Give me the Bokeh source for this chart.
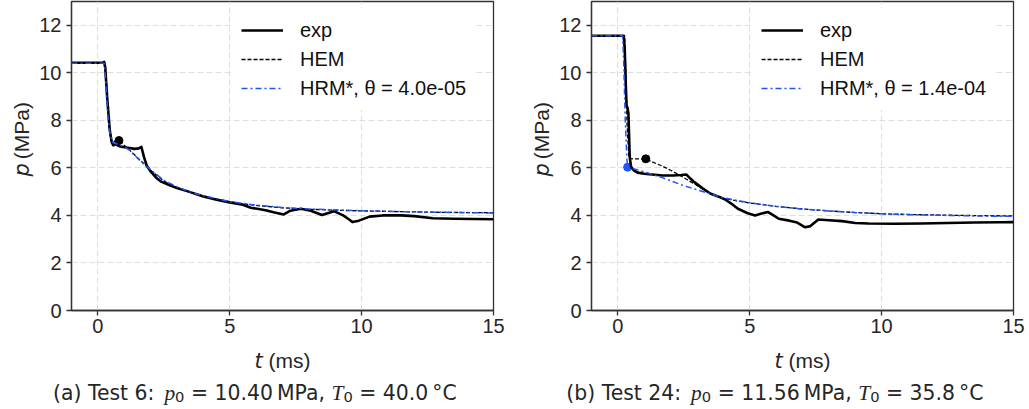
import math
from bokeh.plotting import figure
from bokeh.models import Range1d, Legend, LegendItem, FixedTicker
from bokeh.core.properties import value
from bokeh.layouts import row, column
from bokeh.embed import file_html
from bokeh.resources import INLINE

# ---------------- data ----------------
# Test 6
exp6_t = [-1, 0.18, 0.24, 0.28, 0.35, 0.45, 0.52, 0.58, 0.65, 0.75, 0.85, 1.0, 1.2, 1.4, 1.55,
          1.65, 1.75, 1.85, 2.0, 2.2, 2.4, 2.7, 3.0, 3.5, 4.0, 4.5, 5.0, 5.5, 5.8, 6.1, 6.4,
          6.7, 7.05, 7.3, 7.7, 8.07, 8.5, 8.95, 9.3, 9.5, 9.65, 9.9, 10.3, 10.8, 11.5, 12.0,
          12.7, 13.5, 14.3, 15]
exp6_p = [10.42, 10.42, 10.46, 10.2, 9.0, 7.6, 7.1, 6.95, 7.0, 6.95, 6.9, 6.87, 6.84, 6.8, 6.82,
          6.88, 6.45, 6.1, 5.85, 5.6, 5.42, 5.28, 5.15, 4.98, 4.8, 4.66, 4.55, 4.45, 4.32, 4.27, 4.21,
          4.12, 4.04, 4.2, 4.28, 4.2, 4.02, 4.18, 4.0, 3.85, 3.72, 3.78, 3.95, 4.0, 4.0, 3.97,
          3.88, 3.86, 3.85, 3.84]
hem6_t = [-1, 0.28, 0.33, 0.4, 0.47, 0.55, 0.8, 0.9, 1.2, 1.6, 2.0, 2.5, 3.0, 3.5, 4.0, 5.0,
          6.0, 7.0, 8.0, 9.0, 10.0, 11.0, 12.0, 13.0, 14.0, 15.0]
hem6_p = [10.40, 10.40, 9.5, 8.0, 7.3, 7.1, 7.15, 7.05, 6.75, 6.33, 5.9, 5.45, 5.18, 4.98, 4.82, 4.57,
          4.42, 4.32, 4.26, 4.22, 4.19, 4.17, 4.15, 4.13, 4.12, 4.11]
hrm6_t = [-1, 0.25, 0.3, 0.38, 0.45, 0.55, 0.9, 1.17, 1.57, 2.0, 2.5, 3.0, 3.5, 4.0, 5.0, 6.0,
          7.0, 8.0, 9.0, 10.0, 11.0, 12.0, 13.0, 14.0, 15.0]
hrm6_p = [10.40, 10.40, 9.6, 8.2, 7.5, 7.08, 6.93, 6.77, 6.33, 5.92, 5.48, 5.2, 4.99, 4.83, 4.58, 4.43,
          4.33, 4.27, 4.23, 4.2, 4.17, 4.15, 4.13, 4.12, 4.10]
hem6_mark = ([0.8], [7.15])
hrm6_mark = ([], [])

# Test 24
exp24_t = [-1, 0.22, 0.26, 0.3, 0.33, 0.36, 0.4, 0.45, 0.5, 0.6, 0.75, 1.0, 1.3, 1.7, 2.1, 2.4,
           2.6, 2.75, 2.9, 3.2, 3.5, 3.8, 4.05, 4.3, 4.55, 4.9, 5.2, 5.45, 5.7, 5.9, 6.1, 6.5,
           6.8, 7.1, 7.3, 7.6, 8.0, 8.5, 9.0, 9.5, 10.5, 11.5, 12.5, 13.5, 14.5, 15]
exp24_p = [11.56, 11.56, 11.0, 9.5, 8.6, 8.55, 8.3, 6.45, 6.05, 5.9, 5.8, 5.75, 5.72, 5.68, 5.68, 5.7,
           5.72, 5.55, 5.4, 5.15, 4.92, 4.8, 4.68, 4.5, 4.28, 4.1, 4.0, 4.08, 4.14, 4.0, 3.86, 3.78,
           3.7, 3.5, 3.55, 3.83, 3.8, 3.76, 3.68, 3.66, 3.65, 3.66, 3.68, 3.7, 3.71, 3.72]
hem24_t = [-1, 0.26, 0.3, 0.35, 0.42, 0.6, 1.06, 1.3, 1.63, 2.0, 2.3, 2.6, 2.9, 3.2, 3.5, 4.0,
           5.0, 6.0, 7.0, 8.0, 9.0, 10.0, 11.0, 12.0, 13.0, 14.0, 15.0]
hem24_p = [11.56, 11.56, 10.0, 7.8, 6.4, 6.38, 6.38, 6.25, 6.1, 5.9, 5.72, 5.52, 5.33, 5.12, 4.92, 4.72,
           4.52, 4.38, 4.27, 4.19, 4.12, 4.07, 4.04, 4.02, 4.0, 3.99, 3.98]
hrm24_t = [-1, 0.18, 0.22, 0.28, 0.34, 0.37, 0.8, 1.63, 2.5, 3.5, 4.0, 5.0, 6.0, 7.0, 8.0, 9.0,
           10.0, 11.0, 12.0, 13.0, 14.0, 15.0]
hrm24_p = [11.56, 11.56, 10.5, 8.0, 6.4, 6.03, 5.9, 5.61, 5.25, 4.91, 4.74, 4.53, 4.38, 4.27, 4.19, 4.12,
           4.07, 4.03, 4.01, 3.99, 3.97, 3.96]
hem24_mark = ([1.06], [6.38])
hrm24_mark = ([0.37], [6.03])

x_ticks = [0, 5, 10, 15]
y_ticks = [0, 2, 4, 6, 8, 10, 12]
legend_labels = ["exp", "HEM"]
theta6 = "4.0e-05"
theta24 = "1.4e-04"
caption_a = ("(a) Test 6:", "10.40\u2009MPa,", "40.0\u2009°C")
caption_b = ("(b) Test 24:", "11.56\u2009MPa,", "35.8\u2009°C")

# ---------------- layout constants ----------------
X0, X1 = -1, 15
Y0, Y1 = 0, 13
FRAME_W, FRAME_H = 422, 309
TOP_H = 342          # height of the row holding the plots
YLAB_W = 34          # strip holding the rotated y label
BL = 71 - YLAB_W     # left border of the plot figures
BT = 1
CAP_H = 409 - TOP_H
BLUE = "#1f55ff"
TXT = "#262626"

W = {
    ("DejaVu Sans", "normal"): {" ": .318, "(": .390, ")": .390, "a": .613, "b": .635, "T": .611,
                                "e": .615, "s": .521, "t": .392, ":": .337, "=": .838, ".": .318,
                                "M": .863, "P": .603, ",": .318, "°": .500, "C": .698, "\u2009": .159,
                                **{d: .636 for d in "0123456789"}},
    ("DejaVu Sans", "italic"): {"t": .392, "p": .635},
    ("Liberation Serif", "italic"): {"p": .5, "T": .556},
    ("Liberation Sans", "normal"): {" ": .278, "(": .333, ")": .333, "m": .833, "s": .5,
                                    "M": .833, "P": .667, "a": .556},
}


def tw(txt, font, style, size):
    tab = W[(font, style)]
    return sum(tab.get(c, .6) for c in txt) * size


def blank(width, height):
    f = figure(width=width, height=height, x_range=Range1d(0, width), y_range=Range1d(0, height),
               output_backend="svg", toolbar_location=None, title=None,
               x_axis_type=None, y_axis_type=None, min_border=0)
    f.outline_line_color = None
    f.xgrid.visible = False
    f.ygrid.visible = False
    f.background_fill_color = "white"
    f.border_fill_color = "white"
    return f


def put(f, x, y, txt, font, style, size, align="left", baseline="alphabetic", angle=0.0):
    f.text(x=[x], y=[y], text=[txt], text_font=value(font), text_font_style=style,
           text_font_size=value(f"{size:.1f}px"), text_color=TXT, text_align=align,
           text_baseline=baseline, angle=angle)


def hrun(f, pieces, center_x, baseline_y):
    total = sum(tw(t, fo, s, z) for t, fo, s, z, _ in pieces)
    x = center_x - total / 2
    for txt, font, style, size, sub in pieces:
        w = tw(txt, font, style, size)
        if txt.strip():
            lead = tw(txt[:len(txt) - len(txt.lstrip())], font, style, size)
            put(f, x + lead, baseline_y - sub, txt.strip(), font, style, size)
        x += w


def vrun(f, pieces, center_y, x):
    total = sum(tw(t, fo, s, z) for t, fo, s, z in pieces)
    y = center_y - total / 2  # bottom end, y measured upward
    for txt, font, style, size in pieces:
        w = tw(txt, font, style, size)
        if txt.strip():
            lead = tw(txt[:len(txt) - len(txt.lstrip())], font, style, size)
            put(f, x, y + lead, txt.strip(), font, style, size, baseline="middle", angle=math.pi / 2)
        y += w


def make(width, exp_t, exp_p, hem_t, hem_p, hrm_t, hrm_p, hem_mark, hrm_mark, theta):
    p = figure(width=width, height=TOP_H, x_range=Range1d(X0, X1), y_range=Range1d(Y0, Y1),
               output_backend="svg", toolbar_location=None, title=None,
               min_border_left=BL, min_border_right=width - BL - FRAME_W, min_border_top=BT,
               min_border_bottom=TOP_H - BT - FRAME_H)
    p.background_fill_color = "white"
    p.border_fill_color = "white"
    p.outline_line_color = "#333333"
    p.outline_line_width = 1.3
    for ax in (p.xaxis[0], p.yaxis[0]):
        ax.axis_line_color = "#333333"
        ax.axis_line_width = 1.3
        ax.major_tick_line_color = "#333333"
        ax.major_tick_line_width = 1.3
        ax.major_tick_in = 0
        ax.major_tick_out = 5
        ax.minor_tick_line_color = None
        ax.major_label_text_font = "Liberation Sans"
        ax.major_label_text_font_size = "20px"
        ax.major_label_text_color = TXT
    p.xaxis.ticker = FixedTicker(ticks=x_ticks)
    p.yaxis.ticker = FixedTicker(ticks=y_ticks)
    p.xaxis.major_label_standoff = 3
    p.yaxis.major_label_standoff = 5
    for g in (p.xgrid[0], p.ygrid[0]):
        g.grid_line_color = "#dedede"
        g.grid_line_dash = "6 3"
        g.grid_line_width = 1.1

    if hrm_mark[0]:
        p.scatter(hrm_mark[0], hrm_mark[1], size=8, color=BLUE)
    p.scatter(hem_mark[0], hem_mark[1], size=8, color="black")
    r_exp = p.line(exp_t, exp_p, line_color="black", line_width=2.6, line_join="round")
    r_hem = p.line(hem_t, hem_p, line_color="black", line_width=1.3, line_dash="4 2")
    r_hrm = p.line(hrm_t, hrm_p, line_color=BLUE, line_width=1.5, line_dash="6 3 2 3")

    legend = Legend(items=[LegendItem(label=legend_labels[0], renderers=[r_exp]),
                           LegendItem(label=legend_labels[1], renderers=[r_hem]),
                           LegendItem(label=f"HRM*, θ = {theta}", renderers=[r_hrm])],
                    location=(162, 200))
    legend.label_text_font = "Liberation Sans"
    legend.label_text_font_size = "20px"
    legend.label_text_color = "#111111"
    legend.glyph_width = 42
    legend.glyph_height = 28
    legend.label_height = 28
    legend.label_standoff = 17
    legend.spacing = 1
    legend.padding = 8
    legend.margin = 0
    legend.border_line_alpha = 0
    legend.background_fill_alpha = 1
    p.add_layout(legend)
    return p


def ylabel_strip():
    f = blank(YLAB_W, TOP_H)
    vrun(f, [("p", "DejaVu Sans", "italic", 21),
             (" (MPa)", "Liberation Sans", "normal", 21)],
         TOP_H - (BT + FRAME_H / 2), 21)
    return f


def caption_strip(width, caption):
    f = blank(width, CAP_H)
    frame_cx = 71 + FRAME_W / 2
    hrun(f, [("t", "DejaVu Sans", "italic", 21, 0),
             (" (ms)", "Liberation Sans", "normal", 21, 0)],
         frame_cx, 409 - 360)
    S = 20.4
    hrun(f, [(caption[0] + " ", "DejaVu Sans", "normal", S, 0),
             ("p", "Liberation Serif", "italic", S * 1.05, 0),
             ("0", "DejaVu Sans", "normal", S * 0.72, 4),
             (" = ", "DejaVu Sans", "normal", S, 0),
             (caption[1] + " ", "DejaVu Sans", "normal", S, 0),
             ("T", "Liberation Serif", "italic", S * 1.05, 0),
             ("0", "DejaVu Sans", "normal", S * 0.72, 4),
             (" = ", "DejaVu Sans", "normal", S, 0),
             (caption[2], "DejaVu Sans", "normal", S, 0)],
         71 + 183, 409 - 392)
    return f


p1 = make(520 - YLAB_W, exp6_t, exp6_p, hem6_t, hem6_p, hrm6_t, hrm6_p, hem6_mark, hrm6_mark, theta6)
p2 = make(509 - YLAB_W, exp24_t, exp24_p, hem24_t, hem24_p, hrm24_t, hrm24_p, hem24_mark, hrm24_mark, theta24)

layout = column(row(ylabel_strip(), p1, ylabel_strip(), p2),
                row(caption_strip(520, caption_a), caption_strip(509, caption_b)))
open("out.html", "w").write(file_html(layout, INLINE))
